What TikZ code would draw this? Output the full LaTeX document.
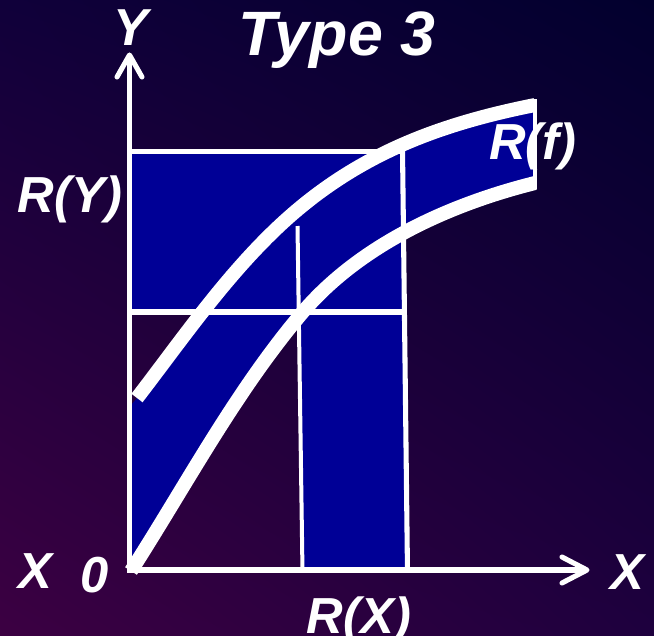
\documentclass[tikz,border=0pt]{standalone}
\usepackage{fontspec}
\setmainfont{Liberation Sans}
\usetikzlibrary{shadings}
\definecolor{bandblue}{RGB}{0,0,150}
\definecolor{bgUL}{RGB}{16,0,58}
\definecolor{bgUR}{RGB}{2,0,46}
\definecolor{bgLL}{RGB}{60,0,66}
\definecolor{bgLR}{RGB}{30,0,62}
\begin{document}
\begin{tikzpicture}[x=0.75pt,y=-0.75pt,
  lbl/.style={text=white, inner sep=0pt, anchor=base, font=\bfseries\itshape\fontsize{38}{40}\selectfont},
  titlelbl/.style={lbl, font=\bfseries\itshape\fontsize{47}{50}\selectfont},
  axisline/.style={draw=white, line width=3.8pt, line join=miter},
  arrowhd/.style={draw=white, line width=3.8pt, line cap=round, line join=round},
  rectline/.style={draw=white, line width=3.8pt},
  thinline/.style={draw=white, line width=3pt},
  curve/.style={draw=white, line width=10.5pt, line cap=butt},
  bandfill/.style={fill=bandblue}]
\useasboundingbox (0,0) rectangle (654,636);
\shade[upper left=bgUL, upper right=bgUR, lower left=bgLL, lower right=bgLR] (0,0) rectangle (654,636);

% named points
\coordinate (O) at (129.5,570);
\coordinate (Ytip) at (129.5,55);
\coordinate (Xtip) at (587,570);
\coordinate (YarmL) at (117,77);
\coordinate (YarmR) at (142,77);
\coordinate (XarmU) at (562,557);
\coordinate (XarmD) at (562,583);
% curve points
\coordinate (U0) at (137,398);
\coordinate (U1) at (275,230);
\coordinate (U2) at (535,105);
\coordinate (L0) at (131,571);
\coordinate (L1) at (302,313);
\coordinate (L2) at (535,183);

% blue regions
\fill[bandfill] (129.5,151.5) rectangle (403,312);
\fill[bandfill] (298,312) -- (404,312) -- (407,570) -- (303,570) -- cycle;
\fill[bandfill] (129.5,407) -- (U0) .. controls (181.2,340.5) and (222.7,280.2) .. (U1)
  .. controls (354.3,153.8) and (440.9,123.8) .. (U2) -- (L2)
  .. controls (448.7,204.6) and (359.5,245.1) .. (L1)
  .. controls (235.5,391.6) and (186.6,484.3) .. (L0) -- cycle;

% rectangle lines
\draw[rectline] (129.5,151.5) -- (405,151.5);
\draw[rectline] (129.5,312) -- (404,312);
\draw[rectline] (402.5,149) -- (407.5,572);
\draw[thinline] (297.5,226) -- (302.5,572);
\draw[thinline] (535,99) -- (535,189);

% curves
\draw[curve] (U0) .. controls (181.2,340.5) and (222.7,280.2) .. (U1)
  .. controls (354.3,153.8) and (440.9,123.8) .. (U2);
\draw[curve] (L0) .. controls (186.6,484.3) and (235.5,391.6) .. (L1)
  .. controls (359.5,245.1) and (448.7,204.6) .. (L2);

% axes
\draw[axisline] (Ytip) -- (O) -- (Xtip);
\draw[arrowhd] (YarmL) -- (Ytip) -- (YarmR);
\draw[arrowhd] (XarmU) -- (Xtip) -- (XarmD);

% labels
\node[titlelbl] (title) at (337,55) {Type 3};
\node[lbl, font=\bfseries\itshape\fontsize{39}{40}\selectfont] (ylab) at (131,45) {Y};
\node[lbl] (ry) at (70,212) {R(Y)};
\node[lbl] (rf) at (533,159) {R(f)};
\node[lbl] (rx) at (359,633) {R(X)};
\node[lbl] (xl) at (35,588) {X};
\node[lbl] (zero) at (95,592) {0};
\node[lbl] (xr) at (627,589) {X};
\end{tikzpicture}
\end{document}
